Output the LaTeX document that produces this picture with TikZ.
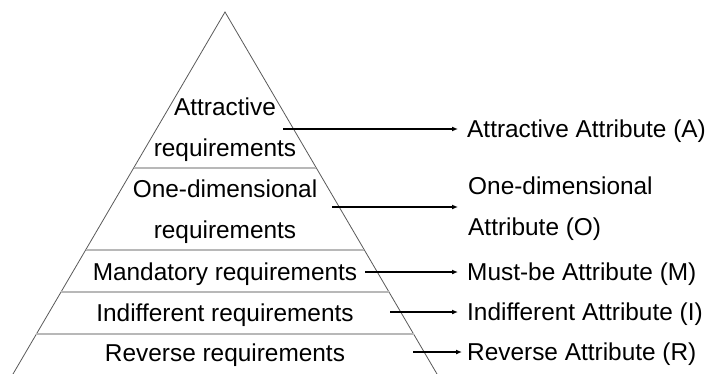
\documentclass[tikz,border=0pt]{standalone}
\usepackage{fontspec}
\setmainfont{Liberation Sans}
\usetikzlibrary{calc,arrows.meta}
\begin{document}
\begin{tikzpicture}[x=1pt,y=-1pt,
  side/.style={draw=black!65,line width=0.8pt},
  tier/.style={draw=black!28,line width=1.6pt},
  txt/.style={font=\fontsize{24.4}{41}\selectfont,inner sep=0pt},
  lvl/.style={txt,anchor=base},
  attr/.style={txt,anchor=base west},
  link/.style={draw=black,line width=1.2pt,-{Latex[length=6pt,width=5pt]}}]
  \useasboundingbox (0,0) rectangle (708,374);

  % pyramid outline
  \coordinate (apex) at (225,12);
  \coordinate (bl) at (13,374);
  \coordinate (br) at (437,374);
  \draw[side] (bl) -- (apex) -- (br);

  % tier dividers
  \foreach \t [count=\i] in {0.4309,0.6575,0.7735,0.8895}{
    \coordinate (l\i) at ($(apex)!\t!(bl)$);
    \coordinate (r\i) at ($(apex)!\t!(br)$);
    \draw[tier] (l\i) -- (r\i);
  }

  % requirement levels
  \node[txt,align=center,anchor=center] (att) at (225,129.5) {Attractive\\requirements};
  \node[txt,align=center,anchor=center] (one) at (225,212) {One-dimensional\\requirements};
  \node[lvl] (man) at (225,280.6) {Mandatory requirements};
  \node[lvl] (ind) at (225,321.6) {Indifferent requirements};
  \node[lvl] (rev) at (225,361.6) {Reverse requirements};

  % attribute labels
  \node[attr] (A) at (467,137.6) {Attractive Attribute (A)};
  \node[txt,align=left,anchor=west] (O) at (468,209) {One-dimensional\\Attribute (O)};
  \node[attr] (M) at (467,280.6) {Must-be Attribute (M)};
  \node[attr] (I) at (467,320.6) {Indifferent Attribute (I)};
  \node[attr] (R) at (467,360.6) {Reverse Attribute (R)};

  % arrow tails
  \coordinate (sA) at (283,129);
  \coordinate (sO) at (332,207);
  \coordinate (sM) at (365,272);
  \coordinate (sI) at (390,312);
  \coordinate (sR) at (413,352);

  \draw[link,shorten >=9pt] (sA) -- (sA -| A.west);
  \draw[link,shorten >=10pt] (sO) -- (sO -| O.west);
  \draw[link,shorten >=9pt] (sM) -- (sM -| M.west);
  \draw[link,shorten >=9pt] (sI) -- (sI -| I.west);
  \draw[link,shorten >=5pt] (sR) -- (sR -| R.west);
\end{tikzpicture}
\end{document}
